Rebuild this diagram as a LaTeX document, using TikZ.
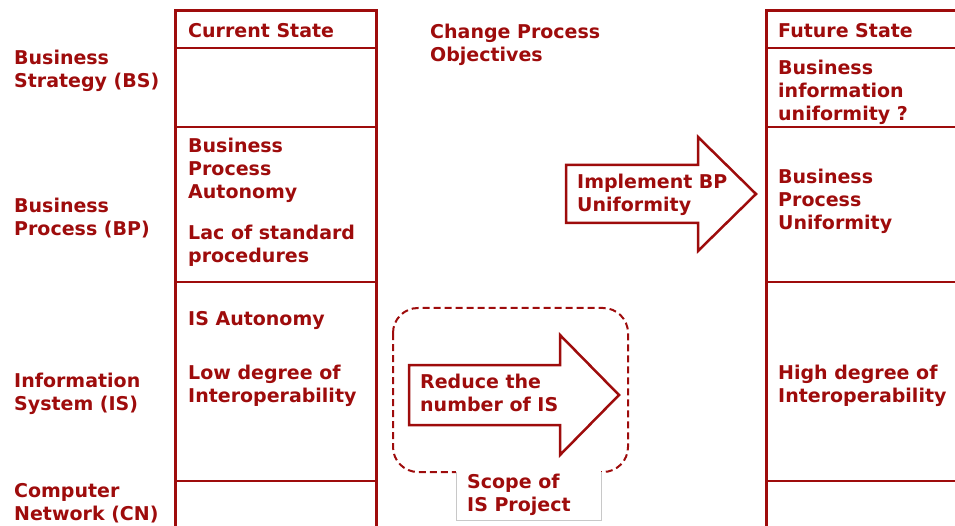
\documentclass[tikz,border=0pt]{standalone}
\usepackage{fontspec}
\setmainfont{DejaVu Sans}
\definecolor{dred}{RGB}{158,12,12}
\definecolor{lgray}{RGB}{200,200,200}
\tikzset{
  lbl/.style={anchor=base west, inner sep=0pt, align=left, text=dred, yshift=-1.5pt,
    font=\fontsize{19}{23}\selectfont\bfseries},
  outer/.style={draw=dred, line width=3pt},
  inner/.style={draw=dred, line width=2pt},
  bigarrow/.style={draw=dred, fill=white, line width=2.5pt, line join=miter},
  scopeline/.style={draw=dred, line width=2pt, dash pattern=on 7pt off 4pt, rounded corners=25pt},
}
\begin{document}
\begin{tikzpicture}[x=1pt,y=-1pt]
\useasboundingbox (0,0) rectangle (955,526);
% current state column
\draw[outer] (175,540) -- (175,11) -- (376,11) -- (376,540);
\foreach \yy in {48,127,282,481} \draw[inner] (175,\yy) -- (376,\yy);
% future state column
\draw[outer] (766,540) -- (766,11) -- (965,11);
\foreach \yy in {48,127,282,481} \draw[inner] (766,\yy) -- (965,\yy);
% scope of IS project
\draw[scopeline] (393,308) rectangle (628,472);
\fill[white] (456,470) rectangle (601,520);
\draw[lgray, line width=0.8pt] (456,472) -- (456,520) -- (601,520) -- (601,472);
% arrows
\draw[bigarrow] (566,165) -- (698,165) -- (698,137) -- (756,194) -- (698,251) -- (698,223) -- (566,223) -- cycle;
\draw[bigarrow] (409,365) -- (560,365) -- (560,335) -- (619,395) -- (560,455) -- (560,425) -- (409,425) -- cycle;
% left labels (anchor at baseline of last line)
\node[lbl] (bs) at (14,86) {Business\\Strategy (BS)};
\node[lbl] (bp) at (14,234) {Business\\Process (BP)};
\node[lbl] (is) at (14,409) {Information\\System (IS)};
\node[lbl] (cn) at (14,519) {Computer\\Network (CN)};
% current state
\node[lbl] (cs) at (188,36) {Current State};
\node[lbl] (cs1) at (188,197) {Business\\Process\\Autonomy};
\node[lbl] (cs2) at (188,261) {Lac of standard\\procedures};
\node[lbl] (cs3) at (188,324) {IS Autonomy};
\node[lbl] (cs4) at (188,401) {Low degree of\\Interoperability};
% change process
\node[lbl] (cp) at (430,60) {Change Process\\Objectives};
\node[lbl] (impl) at (577,210) {Implement BP\\Uniformity};
\node[lbl] (red) at (420,410) {Reduce the\\number of IS};
\node[lbl] (scope) at (467,510) {Scope of\\IS Project};
% future state
\node[lbl] (fs) at (778,36) {Future State};
\node[lbl] (fs1) at (778,119) {Business\\information\\uniformity ?};
\node[lbl] (fs2) at (778,228) {Business\\Process\\Uniformity};
\node[lbl] (fs3) at (778,401) {High degree of\\Interoperability};
\end{tikzpicture}
\end{document}
